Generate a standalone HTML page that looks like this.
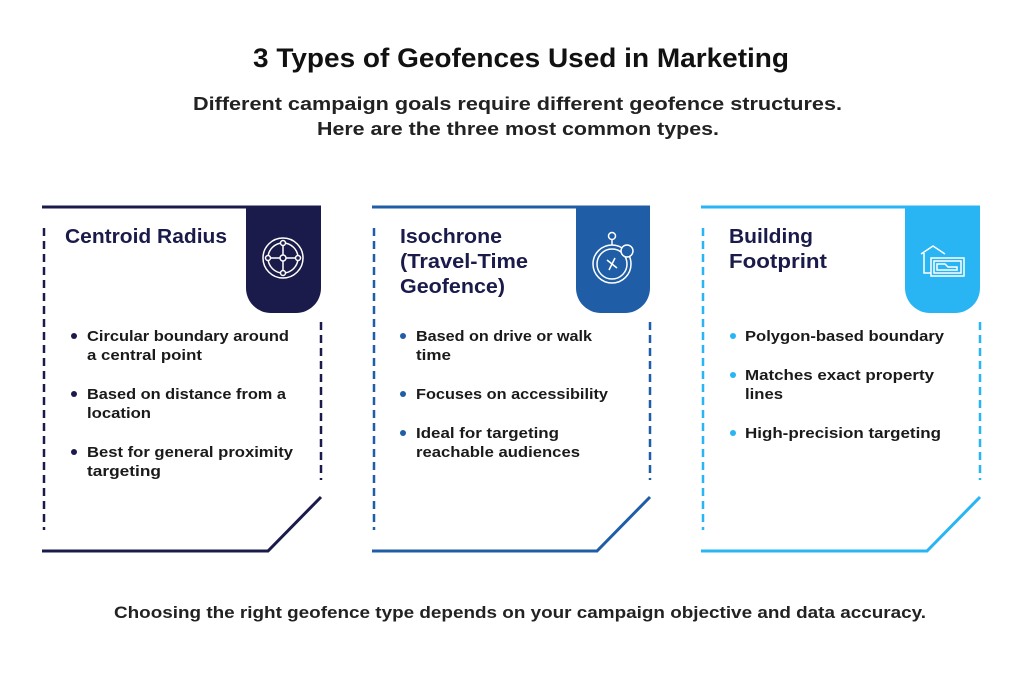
<!DOCTYPE html>
<html><head><meta charset="utf-8"><style>
body{margin:0;background:#fff;width:1024px;height:668px;overflow:hidden;font-family:"Liberation Sans",sans-serif;}
svg text{font-family:"Liberation Sans",sans-serif;font-weight:bold;}
</style></head><body>
<svg width="1024" height="668" viewBox="0 0 1024 668" xmlns="http://www.w3.org/2000/svg">
<text x="253" y="67" font-size="27" fill="#111" textLength="536" lengthAdjust="spacingAndGlyphs">3 Types of Geofences Used in Marketing</text>
<text x="193" y="110" font-size="18" fill="#222" textLength="649" lengthAdjust="spacingAndGlyphs">Different campaign goals require different geofence structures.</text>
<text x="317" y="135" font-size="18" fill="#222" textLength="402" lengthAdjust="spacingAndGlyphs">Here are the three most common types.</text>
<text x="114" y="618" font-size="17" fill="#222" textLength="812" lengthAdjust="spacingAndGlyphs">Choosing the right geofence type depends on your campaign objective and data accuracy.</text>

<!-- Card 1 -->
<g stroke="#1b1b4b" fill="none">
<line x1="42" y1="207" x2="321" y2="207" stroke-width="3"/>
<line x1="44" y1="228" x2="44" y2="530" stroke-width="2.5" stroke-dasharray="8,5"/>
<line x1="321" y1="322" x2="321" y2="480" stroke-width="2.5" stroke-dasharray="8,5"/>
<polyline points="321,497 268,551 42,551" stroke-width="3"/>
</g>
<path d="M246,206 H321 V288 A25,25 0 0 1 296,313 H271 A25,25 0 0 1 246,288 Z" fill="#1b1b4b"/>
<g stroke="#fff" stroke-width="1.5" fill="none">
<circle cx="283" cy="258" r="20"/><circle cx="283" cy="258" r="15"/><circle cx="283" cy="258" r="3"/>
<line x1="283" y1="243" x2="283" y2="255"/><line x1="283" y1="261" x2="283" y2="273"/>
<line x1="268" y1="258" x2="280" y2="258"/><line x1="286" y1="258" x2="298" y2="258"/>
<circle cx="283" cy="243" r="2.5" fill="#1b1b4b"/><circle cx="283" cy="273" r="2.5" fill="#1b1b4b"/>
<circle cx="268" cy="258" r="2.5" fill="#1b1b4b"/><circle cx="298" cy="258" r="2.5" fill="#1b1b4b"/>
</g>
<text x="65" y="243" font-size="20" fill="#1b1b4b" textLength="162" lengthAdjust="spacingAndGlyphs">Centroid Radius</text>
<g font-size="15" fill="#1a1a1a">
<circle cx="74" cy="336" r="3" fill="#1b1b4b"/>
<text x="87" y="341" textLength="202" lengthAdjust="spacingAndGlyphs">Circular boundary around</text><text x="87" y="360" textLength="115" lengthAdjust="spacingAndGlyphs">a central point</text>
<circle cx="74" cy="394" r="3" fill="#1b1b4b"/>
<text x="87" y="399" textLength="199" lengthAdjust="spacingAndGlyphs">Based on distance from a</text><text x="87" y="418" textLength="64" lengthAdjust="spacingAndGlyphs">location</text>
<circle cx="74" cy="452" r="3" fill="#1b1b4b"/>
<text x="87" y="457" textLength="206" lengthAdjust="spacingAndGlyphs">Best for general proximity</text><text x="87" y="476" textLength="74" lengthAdjust="spacingAndGlyphs">targeting</text>
</g>

<!-- Card 2 -->
<g stroke="#1f5ea6" fill="none">
<line x1="372" y1="207" x2="650" y2="207" stroke-width="3"/>
<line x1="374" y1="228" x2="374" y2="530" stroke-width="2.5" stroke-dasharray="8,5"/>
<line x1="650" y1="322" x2="650" y2="480" stroke-width="2.5" stroke-dasharray="8,5"/>
<polyline points="650,497 597,551 372,551" stroke-width="3"/>
</g>
<path d="M576,206 H650 V288 A25,25 0 0 1 625,313 H601 A25,25 0 0 1 576,288 Z" fill="#1f5ea6"/>
<g stroke="#fff" stroke-width="1.5" fill="none">
<circle cx="612" cy="264" r="19"/><circle cx="612" cy="264" r="15"/>
<circle cx="612" cy="236" r="3.5"/><line x1="612" y1="240" x2="612" y2="245"/>
<path d="M607,260 L617,268 M615,258 L609,270"/>
<circle cx="627" cy="251" r="6" fill="#1f5ea6"/>
</g>
<text x="400" y="243" font-size="20" fill="#1b1b4b" textLength="102" lengthAdjust="spacingAndGlyphs">Isochrone</text>
<text x="400" y="268" font-size="20" fill="#1b1b4b" textLength="128" lengthAdjust="spacingAndGlyphs">(Travel-Time</text>
<text x="400" y="293" font-size="20" fill="#1b1b4b" textLength="105" lengthAdjust="spacingAndGlyphs">Geofence)</text>
<g font-size="15" fill="#1a1a1a">
<circle cx="403" cy="336" r="3" fill="#1f5ea6"/>
<text x="416" y="341" textLength="176" lengthAdjust="spacingAndGlyphs">Based on drive or walk</text><text x="416" y="360" textLength="35" lengthAdjust="spacingAndGlyphs">time</text>
<circle cx="403" cy="394" r="3" fill="#1f5ea6"/>
<text x="416" y="399" textLength="192" lengthAdjust="spacingAndGlyphs">Focuses on accessibility</text>
<circle cx="403" cy="433" r="3" fill="#1f5ea6"/>
<text x="416" y="438" textLength="143" lengthAdjust="spacingAndGlyphs">Ideal for targeting</text><text x="416" y="457" textLength="164" lengthAdjust="spacingAndGlyphs">reachable audiences</text>
</g>

<!-- Card 3 -->
<g stroke="#29b5f3" fill="none">
<line x1="701" y1="207" x2="980" y2="207" stroke-width="3"/>
<line x1="703" y1="228" x2="703" y2="530" stroke-width="2.5" stroke-dasharray="8,5"/>
<line x1="980" y1="322" x2="980" y2="480" stroke-width="2.5" stroke-dasharray="8,5"/>
<polyline points="980,497 927,551 701,551" stroke-width="3"/>
</g>
<path d="M905,206 H980 V288 A25,25 0 0 1 955,313 H930 A25,25 0 0 1 905,288 Z" fill="#29b5f3"/>
<g stroke="#fff" stroke-width="1.5" fill="none">
<path d="M921,254 L933,246 L945,254 M924,253 V273 H931"/>
<rect x="931" y="258" width="33" height="18"/><rect x="934" y="261" width="27" height="12"/>
<path d="M937,270 H957 V267 H948 L945,264 H937 Z"/>
</g>
<text x="729" y="243" font-size="20" fill="#1b1b4b" textLength="84" lengthAdjust="spacingAndGlyphs">Building</text>
<text x="729" y="268" font-size="20" fill="#1b1b4b" textLength="98" lengthAdjust="spacingAndGlyphs">Footprint</text>
<g font-size="15" fill="#1a1a1a">
<circle cx="733" cy="336" r="3" fill="#29b5f3"/>
<text x="745" y="341" textLength="199" lengthAdjust="spacingAndGlyphs">Polygon-based boundary</text>
<circle cx="733" cy="375" r="3" fill="#29b5f3"/>
<text x="745" y="380" textLength="189" lengthAdjust="spacingAndGlyphs">Matches exact property</text><text x="745" y="399" textLength="38" lengthAdjust="spacingAndGlyphs">lines</text>
<circle cx="733" cy="433" r="3" fill="#29b5f3"/>
<text x="745" y="438" textLength="196" lengthAdjust="spacingAndGlyphs">High-precision targeting</text>
</g>
</svg>
</body></html>
